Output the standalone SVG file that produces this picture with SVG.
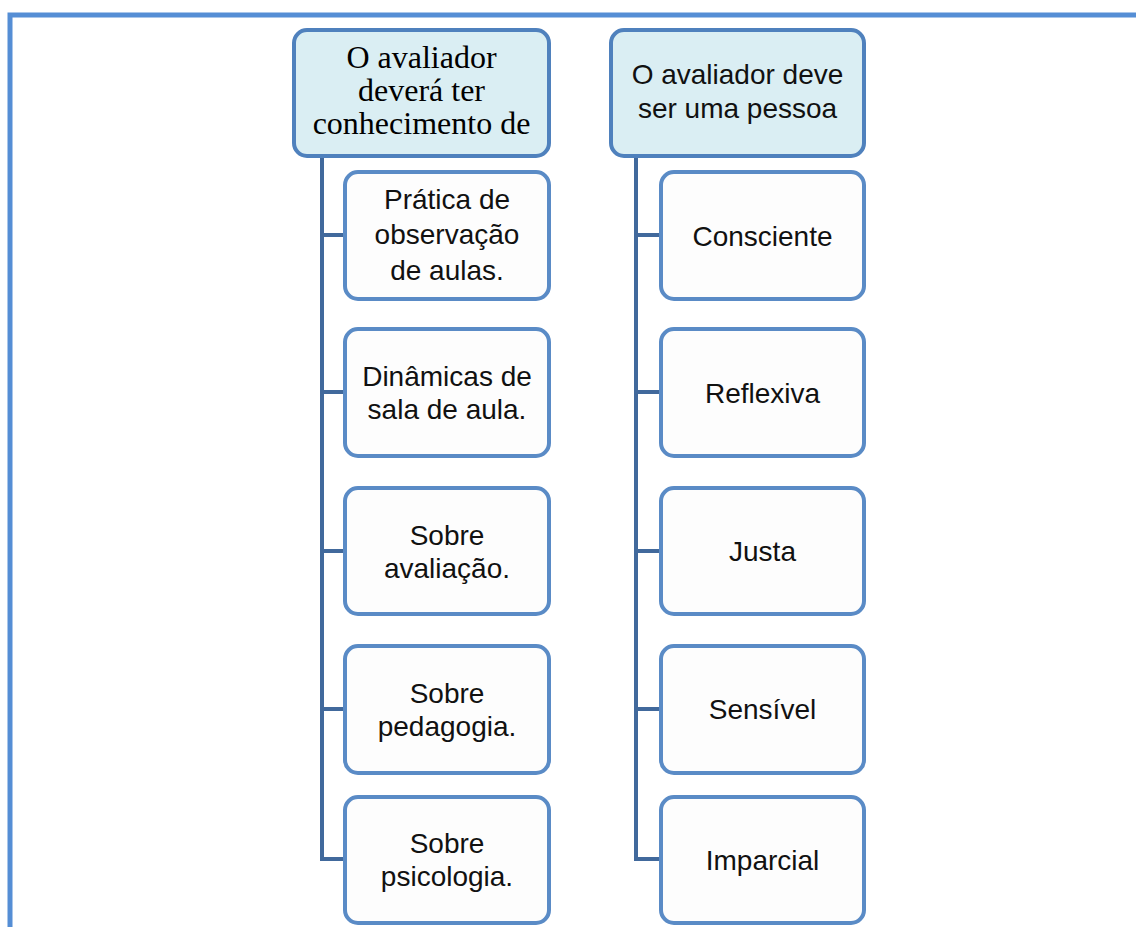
<svg xmlns="http://www.w3.org/2000/svg" width="1136" height="927" viewBox="0 0 1136 927">
<style>
.frame{fill:none;stroke:#558ed5;stroke-width:5}
.head{fill:#daeef3;stroke:#4f81bd;stroke-width:4}
.child{fill:#fdfdfd;stroke:#5a8bc6;stroke-width:4}
.conn{fill:none;stroke:#41699c;stroke-width:4}
.serif{font-family:"Liberation Serif","Times New Roman",serif;font-size:32px;fill:#000;text-anchor:middle}
.sans{font-family:"Liberation Sans",Arial,sans-serif;font-size:28px;fill:#111;text-anchor:middle}
</style>
<rect width="1136" height="927" fill="#ffffff"/>
<path class="frame" d="M10,927 V15 H1136"/>
<g id="connectors">
<path class="conn" d="M322,156 V859 H345 M322,235 H345 M322,392 H345 M322,551 H345 M322,709 H345"/>
<path class="conn" d="M636,156 V859 H661 M636,235 H661 M636,392 H661 M636,551 H661 M636,709 H661"/>
</g>
<g id="head-left">
<rect class="head" x="294" y="30" width="255" height="126" rx="13"/>
<text class="serif" x="421.5" y="68">O avaliador</text>
<text class="serif" x="421.5" y="101">deverá ter</text>
<text class="serif" x="421.5" y="134">conhecimento de</text>
</g>
<g id="head-right">
<rect class="head" x="611" y="30" width="253" height="126" rx="13"/>
<text class="sans" x="737.5" y="84">O avaliador deve</text>
<text class="sans" x="737.5" y="118">ser uma pessoa</text>
</g>
<g id="l1">
<rect class="child" x="345" y="172" width="204" height="127" rx="13"/>
<text class="sans" x="447" y="209">Prática de</text>
<text class="sans" x="447" y="244">observação</text>
<text class="sans" x="447" y="280">de aulas.</text>
</g>
<g id="l2">
<rect class="child" x="345" y="329" width="204" height="127" rx="13"/>
<text class="sans" x="447" y="386">Dinâmicas de</text>
<text class="sans" x="447" y="419">sala de aula.</text>
</g>
<g id="l3">
<rect class="child" x="345" y="488" width="204" height="126" rx="13"/>
<text class="sans" x="447" y="545">Sobre</text>
<text class="sans" x="447" y="578">avaliação.</text>
</g>
<g id="l4">
<rect class="child" x="345" y="646" width="204" height="127" rx="13"/>
<text class="sans" x="447" y="703">Sobre</text>
<text class="sans" x="447" y="736">pedagogia.</text>
</g>
<g id="l5">
<rect class="child" x="345" y="797" width="204" height="126" rx="13"/>
<text class="sans" x="447" y="853">Sobre</text>
<text class="sans" x="447" y="886">psicologia.</text>
</g>
<g id="r1">
<rect class="child" x="661" y="172" width="203" height="127" rx="13"/>
<text class="sans" x="762.5" y="246">Consciente</text>
</g>
<g id="r2">
<rect class="child" x="661" y="329" width="203" height="127" rx="13"/>
<text class="sans" x="762.5" y="403">Reflexiva</text>
</g>
<g id="r3">
<rect class="child" x="661" y="488" width="203" height="126" rx="13"/>
<text class="sans" x="762.5" y="561">Justa</text>
</g>
<g id="r4">
<rect class="child" x="661" y="646" width="203" height="127" rx="13"/>
<text class="sans" x="762.5" y="719">Sensível</text>
</g>
<g id="r5">
<rect class="child" x="661" y="797" width="203" height="126" rx="13"/>
<text class="sans" x="762.5" y="870">Imparcial</text>
</g>
</svg>
